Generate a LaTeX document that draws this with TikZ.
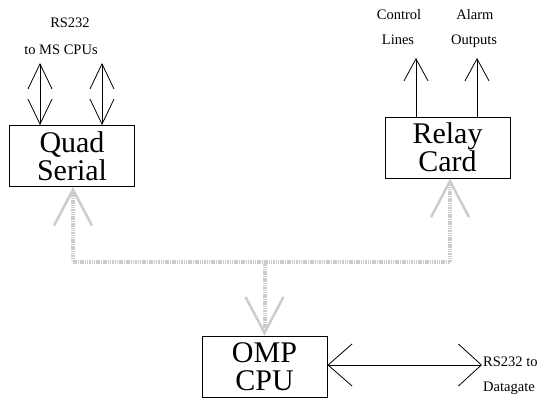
\documentclass[tikz,border=0pt]{standalone}
\usepackage{fontspec}
\setmainfont{Liberation Serif}
\usetikzlibrary{arrows.meta, positioning}

\begin{document}
\begin{tikzpicture}[x=1pt, y=-1pt]
% Define styles
\tikzstyle{card} = [rectangle, draw, line width=0.9pt, minimum width=125pt, minimum height=61pt, inner sep=0pt, align=center, font=\fontsize{30}{28}\selectfont]
\tikzstyle{lbl} = [anchor=base, inner sep=0pt, font=\fontsize{14.5}{16}\selectfont]
\tikzstyle{line} = [line width=0.8pt]
\tikzstyle{bus} = [line width=4pt, draw=gray!40, dash pattern=on 1.5pt off 0.8pt, arrows={-Straight Barb[length=36pt, width=38pt, line width=2.5pt]}]
\useasboundingbox (0,0) rectangle (542,398);
% Place nodes
\node[card] (quad) at (72,156) {Quad\\Serial};
\node[card] (relay) at (447.5,147.5) {Relay\\Card};
\node[card] (omp) at (264.5,366.5) {OMP\\CPU};
\node[lbl] (rs) at (70,28) {RS232};
\node[lbl] (ms) at (61,55) {to MS CPUs};
\node[lbl] (ctl) at (399,20) {Control};
\node[lbl] (lines) at (398,45) {Lines};
\node[lbl] (alarm) at (475,20) {Alarm};
\node[lbl] (outs) at (474,45) {Outputs};
\node[lbl, anchor=base west] (dg1) at (483,367) {RS232 to};
\node[lbl, anchor=base west] (dg2) at (483,392) {Datagate};
% Free ends
\coordinate (msa) at (40,63);
\coordinate (msb) at (102,63);
\coordinate (ctla) at (416,58);
\coordinate (alma) at (477,58);
\coordinate (dga) at (482,365);
\coordinate (busl) at (73,262);
\coordinate (busr) at (450,262);
\coordinate (busm) at (264.5,262);
% Draw arrows
\draw[line, {Straight Barb[length=25pt, width=24pt]}-{Straight Barb[length=25pt, width=24pt]}] (msa) -- (msa |- quad.north);
\draw[line, {Straight Barb[length=25pt, width=24pt]}-{Straight Barb[length=25pt, width=24pt]}] (msb) -- (msb |- quad.north);
\draw[line, -{Straight Barb[length=22pt, width=24pt]}] (ctla |- relay.north) -- (ctla);
\draw[line, -{Straight Barb[length=22pt, width=24pt]}] (alma |- relay.north) -- (alma);
\draw[line, {Straight Barb[length=24pt, width=42pt]}-{Straight Barb[length=23pt, width=42pt]}] (omp.east |- dga) -- (dga);
% Bus
\draw[bus, {Straight Barb[length=36pt, width=38pt, line width=2.5pt]}-{Straight Barb[length=36pt, width=38pt, line width=2.5pt]}] (busl |- quad.south) -- (busl) -- (busr) -- (busr |- relay.south);
\draw[bus] (busm) -- (omp.north);
\end{tikzpicture}
\end{document}
